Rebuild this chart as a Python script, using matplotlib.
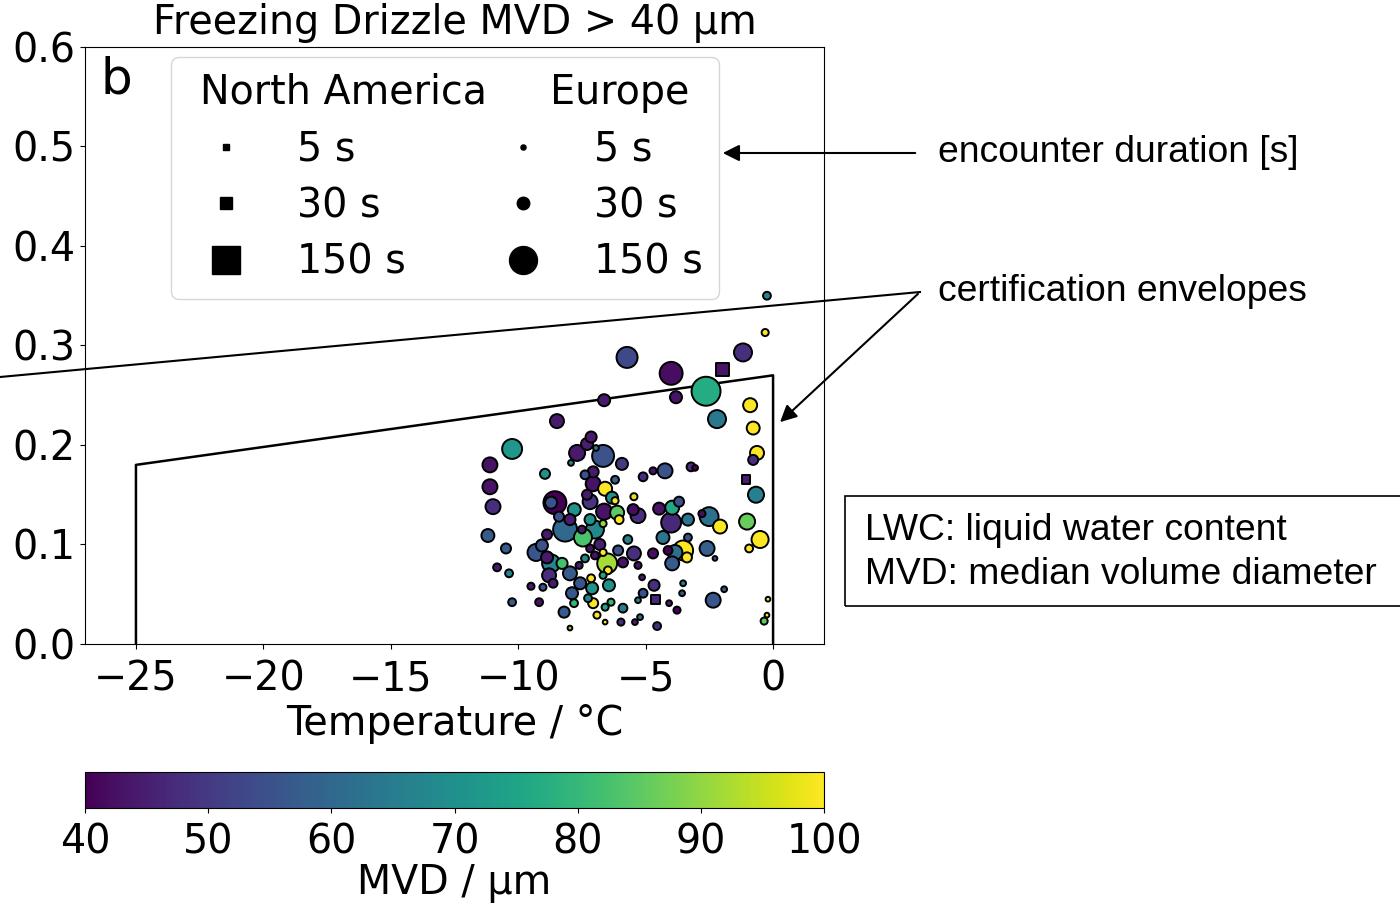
import numpy as np
import matplotlib.pyplot as plt
from matplotlib.lines import Line2D
from matplotlib.patches import Rectangle

# Europe encounters (circles): temperature [C], LWC, MVD [um], duration [s]
eu_temp = [-0.24, -0.31, -5.73, -1.18, -4.00, -2.63, -3.81, -6.63, -0.90, -2.20,
           -8.48, -0.78, -10.24, -7.14, -7.69, -6.67, -0.63, -0.78, -11.11, -7.93,
           -5.93, -7.30, -6.95, -8.95, -5.10, -4.71, -4.24, -3.22, -3.06, -11.11,
           -7.06, -7.06, -6.59, -6.32, -6.20, -5.46, -8.56, -8.71, -10.99, -7.18,
           -6.63, -6.12, -6.04, -5.49, -5.30, -4.47, -3.96, -3.69, -4.00, -3.34,
           -2.51, -2.79, -2.08, -1.02, -0.51, -0.94, -8.16, -7.97, -7.18, -7.46,
           -6.99, -7.50, -6.67, -8.87, -11.19, -10.48, -9.30, -9.07, -8.87, -8.71,
           -8.28, -7.97, -8.79, -8.63, -7.61, -7.38, -7.18, -6.99, -6.67, -6.51,
           -6.48, -6.08, -5.89, -5.46, -5.30, -4.71, -4.32, -4.12, -3.85, -3.53,
           -3.38, -3.96, -2.59, -2.28, -3.34, -10.83, -10.36, -9.50, -9.03, -10.24,
           -9.18, -7.89, -7.57, -7.10, -7.14, -6.44, -6.67, -7.26, -7.06, -7.81,
           -8.20, -6.91, -6.59, -6.59, -6.36, -5.89, -5.14, -4.67, -5.10, -5.30,
           -4.08, -3.77, -3.53, -3.57, -2.35, -1.92, -5.97, -5.42, -5.22, -4.55,
           -7.97, -0.67, -0.20, -0.24, -0.35, -7.38,
           -7.80, -6.80, -8.40, -5.70, -7.30, -6.20]
eu_lwc = [0.350, 0.313, 0.288, 0.293, 0.272, 0.254, 0.248, 0.245, 0.240, 0.226,
          0.224, 0.217, 0.196, 0.208, 0.192, 0.189, 0.192, 0.185, 0.180, 0.182,
          0.181, 0.201, 0.197, 0.171, 0.168, 0.174, 0.174, 0.178, 0.177, 0.158,
          0.173, 0.161, 0.156, 0.147, 0.144, 0.148, 0.142, 0.142, 0.138, 0.143,
          0.133, 0.132, 0.125, 0.135, 0.129, 0.136, 0.137, 0.143, 0.122, 0.125,
          0.128, 0.131, 0.118, 0.123, 0.105, 0.096, 0.115, 0.125, 0.125, 0.107,
          0.115, 0.115, 0.121, 0.110, 0.109, 0.096, 0.092, 0.099, 0.087, 0.081,
          0.081, 0.071, 0.069, 0.061, 0.079, 0.086, 0.096, 0.089, 0.092, 0.081,
          0.074, 0.094, 0.082, 0.091, 0.079, 0.091, 0.107, 0.094, 0.092, 0.094,
          0.087, 0.081, 0.096, 0.086, 0.107, 0.077, 0.071, 0.058, 0.057, 0.042,
          0.042, 0.051, 0.061, 0.056, 0.066, 0.059, 0.069, 0.046, 0.041, 0.041,
          0.032, 0.029, 0.022, 0.037, 0.042, 0.036, 0.067, 0.059, 0.051, 0.044,
          0.041, 0.034, 0.061, 0.051, 0.044, 0.055, 0.022, 0.022, 0.027, 0.018,
          0.016, 0.150, 0.045, 0.029, 0.023, 0.170,
          0.135, 0.100, 0.128, 0.105, 0.150, 0.165]
eu_mvd = [67, 100, 53, 48, 42, 77, 43, 44, 100, 64,
          44, 100, 72, 44, 44, 55, 100, 48, 43, 67,
          50, 45, 65, 70, 48, 43, 55, 48, 40, 43,
          44, 43, 100, 70, 100, 98, 40, 55, 48, 49,
          43, 85, 100, 42, 48, 43, 76, 55, 47, 63,
          62, 42, 100, 86, 100, 100, 60, 45, 70, 83,
          68, 44, 90, 44, 57, 57, 56, 55, 44, 68,
          82, 57, 48, 44, 44, 68, 43, 43, 100, 92,
          100, 55, 43, 48, 43, 42, 63, 40, 62, 100,
          100, 57, 58, 55, 55, 44, 67, 44, 55, 57,
          43, 56, 56, 70, 100, 70, 75, 67, 100, 80,
          57, 100, 100, 75, 80, 65, 45, 48, 55, 67,
          45, 40, 66, 57, 56, 57, 48, 45, 62, 48,
          90, 66, 100, 100, 85, 55,
          70, 45, 55, 66, 44, 58]
eu_dur = [11, 9, 79, 58, 94, 150, 26, 26, 35, 58,
          35, 30, 71, 22, 46, 86, 35, 18, 40, 6,
          26, 26, 6, 18, 14, 9, 40, 14, 6, 40,
          22, 40, 35, 26, 9, 9, 94, 26, 40, 40,
          46, 35, 14, 22, 40, 26, 35, 18, 71, 26,
          64, 9, 35, 46, 52, 11, 103, 22, 22, 58,
          58, 11, 9, 18, 30, 18, 52, 26, 26, 58,
          22, 35, 35, 14, 9, 11, 11, 11, 9, 71,
          11, 18, 18, 35, 9, 18, 30, 14, 40, 71,
          18, 35, 40, 4, 11, 11, 11, 9, 9, 11,
          11, 26, 26, 26, 11, 26, 9, 11, 18, 11,
          22, 9, 4, 9, 9, 14, 6, 22, 14, 6,
          6, 9, 6, 6, 40, 6, 9, 6, 6, 11,
          4, 46, 4, 4, 9, 14,
          30, 22, 18, 14, 18, 11]

# North America encounters (squares)
na_temp = [-2.00, -4.63, -1.06]
na_lwc = [0.276, 0.045, 0.165]
na_mvd = [43, 47, 45]
na_dur = [30, 14, 14]

# certification envelope
env_temp = [-25, -25, 0, 0]
env_lwc = [0.0, 0.18, 0.27, 0.0]

legend_dur = [5, 30, 150]

fs = 28.5
plt.rcParams['font.size'] = fs
scale = 2.9

fig = plt.figure(figsize=(14, 9.07), dpi=100)
ax = fig.add_axes([0.0607, 0.2900, 0.5279, 0.6582])
cax = fig.add_axes([0.0607, 0.1092, 0.5279, 0.0397])

order = np.argsort(eu_dur, kind='stable')[::-1]
sc = ax.scatter(np.array(eu_temp)[order], np.array(eu_lwc)[order],
                s=scale * np.array(eu_dur)[order], c=np.array(eu_mvd)[order],
                cmap='viridis', vmin=40, vmax=100, marker='o',
                edgecolors='black', linewidths=1.4, zorder=3)
ax.scatter(na_temp, na_lwc, s=scale * np.array(na_dur), c=na_mvd,
           cmap='viridis', vmin=40, vmax=100, marker='s',
           edgecolors='black', linewidths=1.4, zorder=3)

ax.plot(env_temp, env_lwc, color='black', lw=1.8, zorder=2)

ax.set_xlim(-27, 2)
ax.set_ylim(0, 0.6)
ax.set_xticks([-25, -20, -15, -10, -5, 0])
ax.set_yticks([0.0, 0.1, 0.2, 0.3, 0.4, 0.5, 0.6])
ax.tick_params(axis='x', pad=8)
ax.set_xlabel('Temperature / °C', labelpad=3)
ax.set_title('Freezing Drizzle MVD > 40 µm', fontsize=fs, pad=9)
ax.text(0.043, 0.945, 'b', transform=ax.transAxes, fontsize=36,
        ha='center', va='center')

handles = []
labels = []
for mk in ['s', 'o']:
    for d in legend_dur:
        handles.append(Line2D([], [], marker=mk, color='black', ls='none',
                              markersize=np.sqrt(2.7 * d)))
        labels.append(f'{d} s')
ax.legend(handles, labels, ncol=2, title='North America     Europe',
          title_fontsize=fs, loc='upper left', bbox_to_anchor=(0.116, 0.983),
          borderaxespad=0, labelspacing=0.42, columnspacing=1.95)

cb = fig.colorbar(sc, cax=cax, orientation='horizontal')
cb.set_ticks([40, 50, 60, 70, 80, 90, 100])
cax.tick_params(pad=7)
cb.set_label('MVD / µm', labelpad=0)

# annotations outside the plot
ann_font = 'Liberation Sans'
afs = 26.8
fig.text(938 / 1400, 1 - 153 / 907, 'encounter duration [s]', family=ann_font,
         fontsize=afs, ha='left', va='center')
fig.text(938 / 1400, 1 - 292 / 907, 'certification envelopes', family=ann_font,
         fontsize=afs, ha='left', va='center')
ax.annotate('', xy=(720, 907 - 153), xycoords='figure pixels',
            xytext=(918, 907 - 153), textcoords='figure pixels',
            arrowprops=dict(arrowstyle='-|>', color='black', lw=1.5,
                            mutation_scale=25), annotation_clip=False)
ax.annotate('', xy=(778, 907 - 424), xycoords='figure pixels',
            xytext=(920, 907 - 292), textcoords='figure pixels',
            arrowprops=dict(arrowstyle='-|>', color='black', lw=1.5,
                            mutation_scale=25), annotation_clip=False)
fig.add_artist(Line2D([920 / 1400, 0], [1 - 292 / 907, 1 - 377 / 907],
                      transform=fig.transFigure, color='black', lw=1.5))

fig.add_artist(Rectangle((845 / 1400, 1 - 606 / 907), 560 / 1400, 110 / 907,
                         transform=fig.transFigure, fill=False,
                         edgecolor='black', lw=1.2))
fig.text(865 / 1400, 1 - 530 / 907, 'LWC: liquid water content',
         family=ann_font, fontsize=afs, ha='left', va='center')
fig.text(865 / 1400, 1 - 575 / 907, 'MVD: median volume diameter',
         family=ann_font, fontsize=afs, ha='left', va='center')

fig.savefig('out.png', dpi=100)
